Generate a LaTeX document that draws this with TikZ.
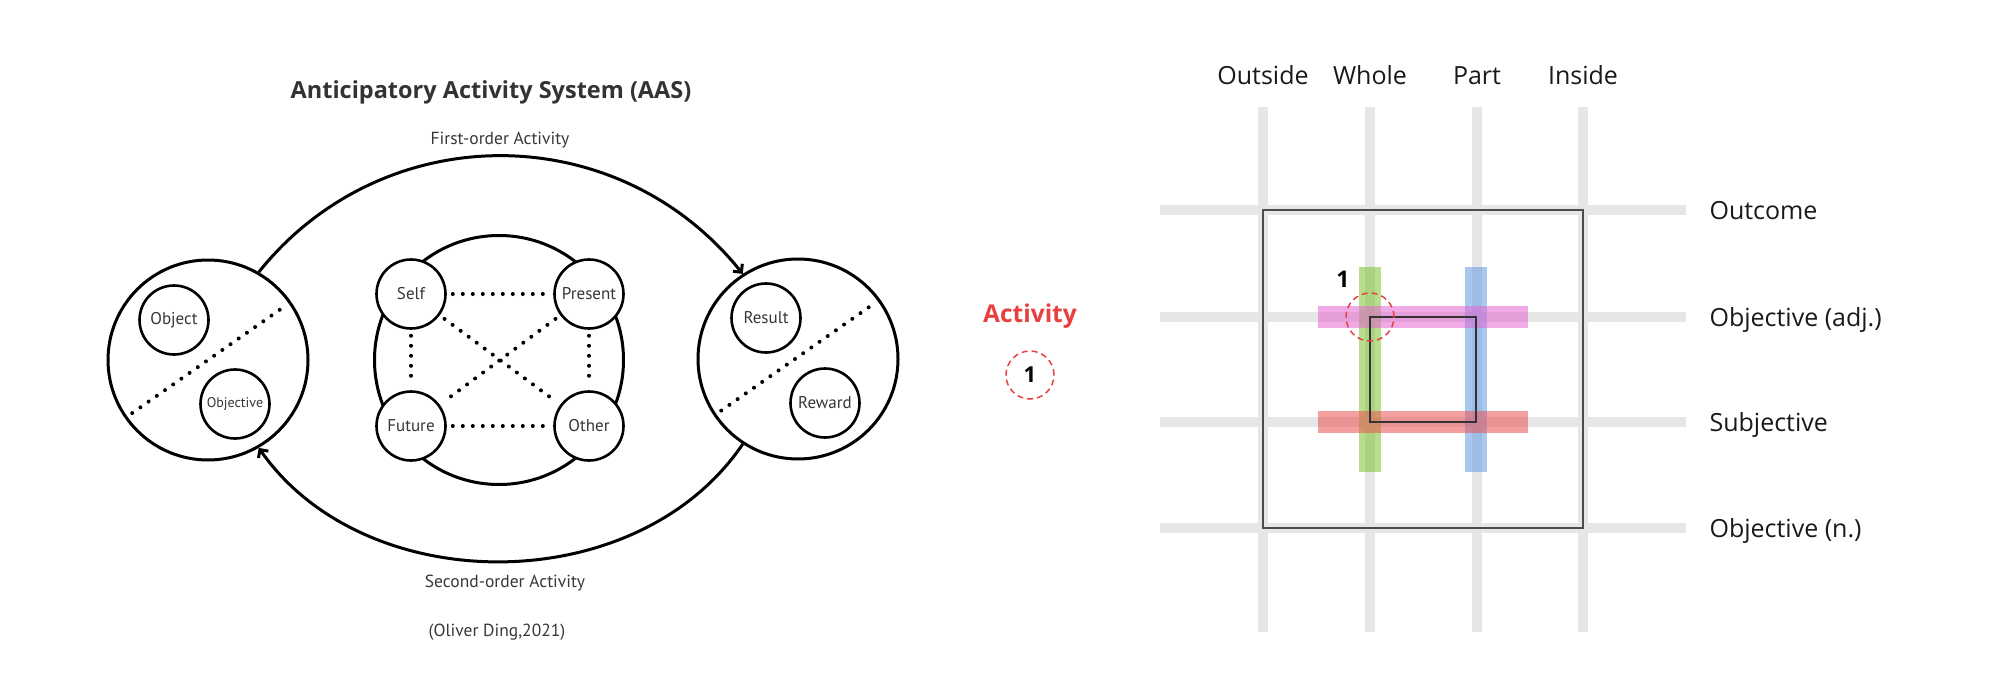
\documentclass[tikz,border=0pt]{standalone}
\usepackage{fontspec}
\setmainfont{Open Sans}
\newfontfamily\scanfont{PT Sans}
\usetikzlibrary{arrows.meta}
\definecolor{titlegray}{RGB}{51,51,51}
\definecolor{scangray}{RGB}{55,55,55}
\definecolor{gridgray}{RGB}{230,230,230}
\definecolor{actred}{RGB}{232,64,63}
\definecolor{wholegreen}{RGB}{124,195,46}
\definecolor{partblue}{RGB}{97,155,228}
\definecolor{adjpink}{RGB}{228,100,209}
\definecolor{subjred}{RGB}{237,82,82}

\tikzset{
    ring/.style={circle, draw, line width=3pt, fill=white, inner sep=0pt},
    bigring/.style={ring, minimum size=200pt},
    smallring/.style={ring, line width=2.6pt, minimum size=69pt,
        font=\scanfont\fontsize{17}{19}\selectfont, text=scangray},
    dotline/.style={line width=4pt, line cap=round, dash pattern=on 0pt off 10pt},
    flow/.style={line width=3pt, -{Straight Barb[length=6pt,width=12pt]}},
    scantext/.style={font=\scanfont\fontsize{17.5}{20}\selectfont, text=scangray},
    axistext/.style={font=\fontsize{25}{28}\selectfont, text=black!90},
    gridline/.style={gridgray, line width=10pt},
    bar/.style={line width=22pt, opacity=0.55},
    numring/.style={circle, draw=actred, line width=1.5pt, dash pattern=on 6pt off 4pt,
        minimum size=48pt, inner sep=0pt, font=\bfseries\fontsize{22}{24}\selectfont}
}

\begin{document}
\begin{tikzpicture}[x=1pt, y=-1pt]
    \useasboundingbox (0,0) rectangle (2000,698);
    % anticipatory activity system
    \node[font=\bfseries\fontsize{23.5}{27}\selectfont, text=titlegray] (title) at (491,92)
        {Anticipatory Activity System (AAS)};
    \node[bigring] (lc) at (208,360) {};
    \node[bigring] (rc) at (798,359) {};
    \node[ring, minimum size=249pt] (mid) at (499,360) {};
    \node[smallring] (object) at (174,320) {Object};
    \node[smallring, font=\scanfont\fontsize{14}{16}\selectfont] (objective) at (235,404) {Objective};
    \node[smallring] (result) at (766,318) {Result};
    \node[smallring] (reward) at (825,403) {Reward};
    \node[smallring] (self) at (411,294) {Self};
    \node[smallring] (present) at (589,294) {Present};
    \node[smallring] (future) at (411,426) {Future};
    \node[smallring] (other) at (589,426) {Other};
    \draw[dotline, shorten <=9pt, shorten >=8pt] (lc.215) -- (lc.35);
    \draw[dotline, shorten <=9pt, shorten >=8pt] (rc.214) -- (rc.36);
    \foreach \a/\b in {self/present, future/other, self/future, present/other, self/other, present/future}
        \draw[dotline, shorten <=6pt, shorten >=6pt] (\a) -- (\b);
    \draw[flow] (lc.60) .. controls (383,117) and (617,117) .. (rc.123);
    \draw[flow] (rc.237) .. controls (637,600) and (365,600) .. (lc.300);
    \node[scantext] (first) at (500,140) {First-order Activity};
    \node[scantext] (second) at (505,583) {Second-order Activity};
    \node[scantext] (cite) at (497,632) {(Oliver Ding,2021)};

    % activity marker
    \node[font=\bfseries\fontsize{24.5}{28}\selectfont, text=actred] (act) at (1030,316) {Activity};
    \node[numring] (num) at (1030,375) {1};

    % grid
    \foreach \x/\name [count=\i] in {1263/Outside, 1370/Whole, 1477/Part, 1583/Inside} {
        \draw[gridline] (\x,107) -- (\x,632);
        \node[axistext, anchor=base] (col\i) at (\x,85) {\name};
    }
    \foreach \y/\name [count=\i] in {210/Outcome, 317/{Objective (adj.)}, 422/Subjective, 528/{Objective (n.)}} {
        \draw[gridline] (1160,\y) -- (1686,\y);
        \node[axistext, anchor=base west] (row\i) at (1706,\y+9) {\name};
    }
    \draw[line width=1.6pt, black!70] (1263,210) rectangle (1583,528);
    \draw[bar, wholegreen] (1370,267) -- (1370,472);
    \draw[bar, partblue] (1476,267) -- (1476,472);
    \draw[bar, adjpink] (1318,317) -- (1528,317);
    \draw[bar, subjred] (1318,422) -- (1528,422);
    \draw[line width=1.2pt, black!80] (1370,317) rectangle (1476,422);
    \node[numring] (pick) at (1370,317) {};
    \node[font=\bfseries\fontsize{23}{26}\selectfont] (pickno) at (1343,279) {1};
\end{tikzpicture}
\end{document}
